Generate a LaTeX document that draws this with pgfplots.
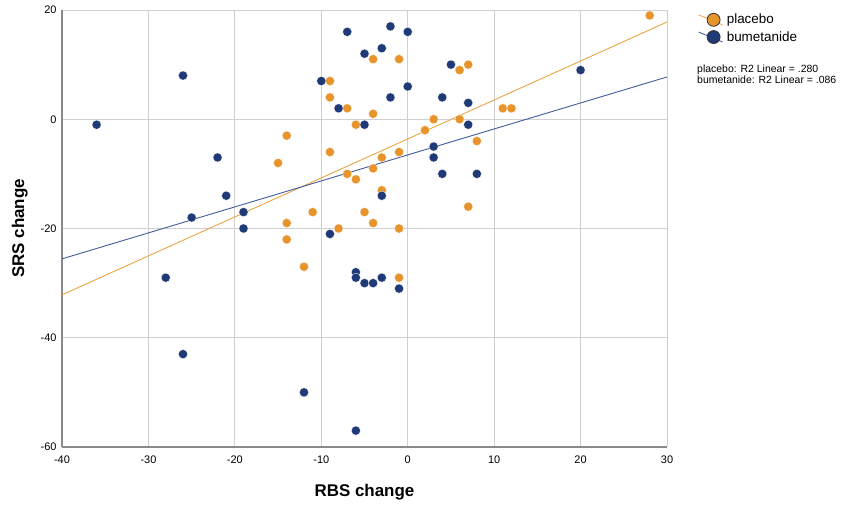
\documentclass[border=0pt]{standalone}
\usepackage{pgfplots}
\pgfplotsset{compat=1.18}
\usepackage{fontspec}
\setmainfont{Liberation Sans}
\definecolor{orangefill}{HTML}{E8942C}
\definecolor{navyfill}{HTML}{1F3A76}
\definecolor{orangeline}{HTML}{EBA545}
\definecolor{blueline}{HTML}{3F5C9C}
\definecolor{gridgray}{HTML}{D0D0D0}
\definecolor{axgray}{HTML}{8A8A8A}
\begin{document}
\begin{tikzpicture}[x=1bp,y=1bp]
\useasboundingbox (-62bp,-58bp) rectangle (789bp,447bp);
\begin{axis}[
  at={(0,0)}, anchor=south west,
  scale only axis, width=605bp, height=437bp,
  xmin=-40, xmax=30, ymin=-60, ymax=20,
  xtick={-40,-30,...,30}, ytick={-60,-40,...,20},
  axis x line*=bottom, axis y line*=left,
  axis line style={axgray, line width=1.2pt},
  grid=major, major grid style={gridgray, line width=0.8pt},
  tick style={draw=none},
  /pgf/number format/assume math mode=true,
  ticklabel style={font=\fontsize{11}{13}\selectfont},
  xticklabel style={yshift=-5bp},
  yticklabel style={xshift=-2bp},
  xlabel={\textbf{RBS change}}, ylabel={\textbf{SRS change}},
  label style={font=\fontsize{17}{20}\selectfont},
  xlabel style={yshift=-14bp},
  ylabel style={yshift=6bp},
  clip=false,
  legend style={at={(1,1)}, anchor=north west, xshift=30bp, yshift=-1bp, draw=none, fill=none,
    font=\fontsize{13.5}{15}\selectfont, row sep=2bp, inner sep=1bp},
  legend cell align=left,
]
\addlegendimage{legend image code/.code={\draw[orangeline, line width=0.8pt] (0bp,5bp) -- (24bp,-5bp); \draw[black!80, fill=orangefill, line width=0.8pt] (15bp,0bp) circle (6.5bp); \path (26bp,0bp);}}
\addlegendentry{placebo}
\addlegendimage{legend image code/.code={\draw[blueline, line width=0.8pt] (0bp,5bp) -- (24bp,-5bp); \draw[black!80, fill=navyfill, line width=0.8pt] (15bp,0bp) circle (6.5bp); \path (26bp,0bp);}}
\addlegendentry{bumetanide}
% regression lines
\addplot[orangeline, line width=0.9pt, forget plot] coordinates {(-40,-32.15) (30,17.8)};
\addplot[blueline, line width=0.9pt, forget plot] coordinates {(-40,-25.56) (30,7.74)};
% placebo
\addplot[only marks, mark=*, mark size=4.6bp, mark options={fill=orangefill, draw=white, line width=0.3pt}, forget plot] coordinates {
(-4,11) (-1,11) (-9,7) (-9,4) (-7,2) (-4,1) (-6,-1) (-14,-3) (-9,-6) (-1,-6)
(-3,-7) (-15,-8) (-7,-10) (-6,-11) (-4,-9) (-3,-13) (-11,-17) (-5,-17) (-14,-19) (-4,-19)
(-14,-22) (-8,-20) (-1,-20) (-12,-27) (-1,-29) (6,9) (7,10) (11,2) (12,2) (3,0)
(6,0) (2,-2) (8,-4) (7,-16) (28,19)
};
% bumetanide
\addplot[only marks, mark=*, mark size=4.6bp, mark options={fill=navyfill, draw=white, line width=0.3pt}, forget plot] coordinates {
(-36,-1) (-26,8) (-22,-7) (-21,-14) (-25,-18) (-19,-17) (-19,-20) (-28,-29) (-26,-43) (-12,-50)
(-6,-57) (-7,16) (-2,17) (0,16) (-5,12) (-3,13) (-10,7) (0,6) (-2,4) (-8,2)
(-5,-1) (-9,-21) (-3,-14) (-6,-28) (-6,-29) (-5,-30) (-4,-30) (-3,-29) (-1,-31) (5,10)
(4,4) (7,3) (7,-1) (3,-5) (3,-7) (4,-10) (8,-10) (20,9)
};
\node[anchor=north west, align=left, inner sep=0pt, font=\fontsize{10.5}{11}\selectfont]
  at (rel axis cs:1,1) [xshift=30bp, yshift=-55bp] {placebo: R2 Linear = .280\\bumetanide: R2 Linear = .086};
\end{axis}
\end{tikzpicture}
\end{document}
